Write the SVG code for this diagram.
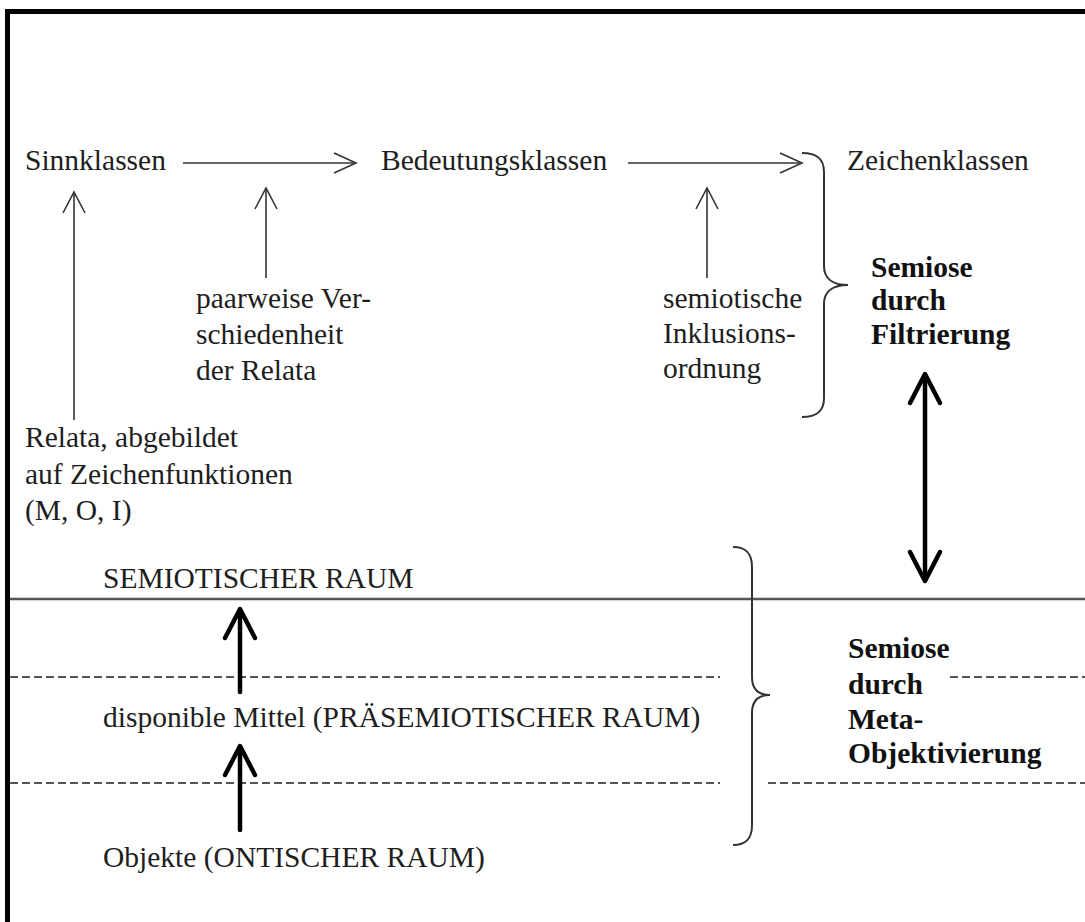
<svg xmlns="http://www.w3.org/2000/svg" width="1085" height="922" viewBox="0 0 1085 922">
<style>
text{font-family:"Liberation Serif","Times New Roman",serif;font-size:29.5px;fill:#1e1e1e}
.b{font-weight:bold;fill:#111}
.thin{stroke:#333;stroke-width:1.6;fill:none}
.thick{stroke:#000;stroke-width:4.5;fill:none;stroke-linecap:round;stroke-linejoin:round}
.brace{stroke:#333;stroke-width:2;fill:none}
.dash{stroke:#555;stroke-width:2;stroke-dasharray:8 4;fill:none}
.solid{stroke:#555;stroke-width:2.5;fill:none}
</style>
<rect width="1085" height="922" fill="#fff"/>
<path d="M7.5,922 L7.5,11.5 L1085,11.5" stroke="#000" stroke-width="5" fill="none"/>
<g id="layers">
<line class="solid" x1="10" y1="599" x2="1085" y2="599"/>
<line class="dash" x1="10" y1="677" x2="720" y2="677"/>
<line class="dash" x1="950" y1="677" x2="1085" y2="677"/>
<line class="dash" x1="10" y1="783" x2="720" y2="783"/>
<line class="dash" x1="768" y1="783" x2="1085" y2="783"/>
</g>
<g id="sinnklassen"><text x="25" y="170">Sinnklassen</text></g>
<g id="bedeutungsklassen"><text x="381" y="170">Bedeutungsklassen</text></g>
<g id="zeichenklassen"><text x="847" y="170">Zeichenklassen</text></g>
<g id="paarweise"><text x="196" y="308">paarweise Ver-</text><text x="196" y="344">schiedenheit</text><text x="196" y="380">der Relata</text></g>
<g id="inklusion"><text x="663" y="308">semiotische</text><text x="663" y="343">Inklusions-</text><text x="663" y="378">ordnung</text></g>
<g id="filtrierung"><text class="b" x="871" y="277">Semiose</text><text class="b" x="871" y="310">durch</text><text class="b" x="871" y="344">Filtrierung</text></g>
<g id="relata"><text x="25" y="447">Relata, abgebildet</text><text x="25" y="484">auf Zeichenfunktionen</text><text x="25" y="520">(M, O, I)</text></g>
<g id="semiotischer-raum"><text x="103" y="588">SEMIOTISCHER RAUM</text></g>
<g id="praesemiotisch"><text x="103" y="727">disponible Mittel (PRÄSEMIOTISCHER RAUM)</text></g>
<g id="objekte"><text x="103" y="867">Objekte (ONTISCHER RAUM)</text></g>
<g id="metaobjektivierung"><text class="b" x="848" y="658">Semiose</text><text class="b" x="848" y="694">durch</text><text class="b" x="848" y="729">Meta-</text><text class="b" x="848" y="763">Objektivierung</text></g>
<g id="connectors">
<line class="thin" x1="183" y1="163" x2="355" y2="163"/>
<polyline class="thin" points="334,153 356,163 334,173"/>
<line class="thin" x1="628" y1="163" x2="801" y2="163"/>
<polyline class="thin" points="780,153 802,163 780,173"/>
<line class="thin" x1="74" y1="420" x2="74" y2="192"/>
<polyline class="thin" points="63,213 74,192 85,213"/>
<line class="thin" x1="266" y1="278" x2="266" y2="188"/>
<polyline class="thin" points="255,209 266,188 277,209"/>
<line class="thin" x1="707" y1="278" x2="707" y2="188"/>
<polyline class="thin" points="696,209 707,188 718,209"/>
<line class="thick" x1="925" y1="375" x2="925" y2="580"/>
<polyline class="thick" points="910,403 925,374 940,403"/>
<polyline class="thick" points="910,552 925,581 940,552"/>
<line class="thick" x1="240" y1="692" x2="240" y2="610"/>
<polyline class="thick" points="225,638 240,609 255,638"/>
<line class="thick" x1="240" y1="830" x2="240" y2="747"/>
<polyline class="thick" points="225,775 240,746 255,775"/>
<path class="brace" d="M802,153 C816,153 824,158 824,172 L824,266 C824,278 832,285 848,285 C832,285 824,292 824,304 L824,398 C824,412 816,417 802,417"/>
<path class="brace" d="M733,547 C746,547 752,553 752,567 L752,677 C752,689 758,695 770,695 C758,695 752,701 752,713 L752,825 C752,839 746,845 733,845"/>
</g>
</svg>
